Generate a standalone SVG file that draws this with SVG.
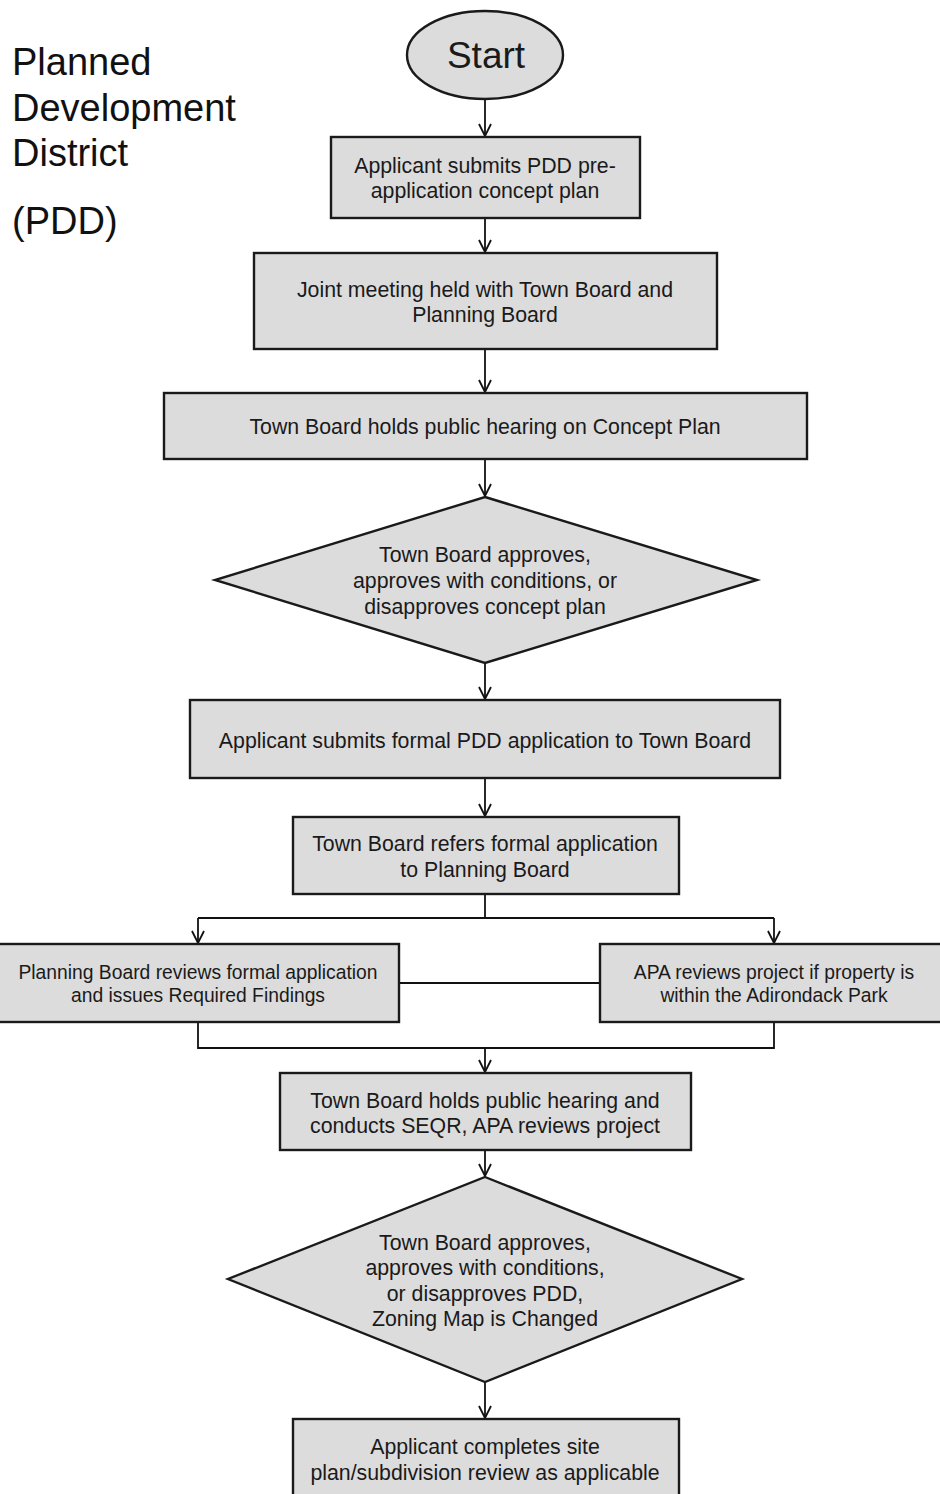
<svg xmlns="http://www.w3.org/2000/svg" width="940" height="1494" viewBox="0 0 940 1494">
<defs>
<marker id="arr" viewBox="0 0 14 14" refX="13" refY="7" markerWidth="14" markerHeight="14" markerUnits="userSpaceOnUse" orient="auto">
<path d="M1,1 L13,7 L1,13" fill="none" stroke="#111" stroke-width="1.8"/>
</marker>
<style>
.n{fill:#dcdcdc;stroke:#1a1a1a;stroke-width:2.4}
.t{font-family:"Liberation Sans",Arial,sans-serif;font-size:21.3px;fill:#1a1a1a;text-anchor:middle}
.s{font-size:19.3px}
.title{font-family:"Liberation Sans",Arial,sans-serif;font-size:38px;fill:#111}
.c{fill:none;stroke:#111;stroke-width:1.8}
</style>
</defs>
<rect width="940" height="1494" fill="#fff"/>
<g id="title">
<text class="title" x="12" y="75">Planned</text>
<text class="title" x="12" y="121">Development</text>
<text class="title" x="12" y="166">District</text>
<text class="title" x="12" y="234">(PDD)</text>
</g>
<g id="connectors">
<path class="c" d="M485,99 V136" marker-end="url(#arr)"/>
<path class="c" d="M485,218 V252" marker-end="url(#arr)"/>
<path class="c" d="M485,349 V392" marker-end="url(#arr)"/>
<path class="c" d="M485,459 V496" marker-end="url(#arr)"/>
<path class="c" d="M485,663 V699" marker-end="url(#arr)"/>
<path class="c" d="M485,778 V816" marker-end="url(#arr)"/>
<path class="c" d="M485,894 V918"/>
<path class="c" d="M198,918 H774"/>
<path class="c" d="M198,918 V943" marker-end="url(#arr)"/>
<path class="c" d="M774,918 V943" marker-end="url(#arr)"/>
<path class="c" d="M399,983 H600"/>
<path class="c" d="M198,1022 V1048 H774 V1022"/>
<path class="c" d="M485,1048 V1072" marker-end="url(#arr)"/>
<path class="c" d="M485,1150 V1176" marker-end="url(#arr)"/>
<path class="c" d="M485,1382 V1418" marker-end="url(#arr)"/>
</g>
<g id="start">
<ellipse class="n" cx="485" cy="55" rx="78" ry="44"/>
<text class="t" x="486" y="68" style="font-size:37px">Start</text>
</g>
<g id="n1">
<rect class="n" x="331" y="137" width="309" height="81"/>
<text class="t" x="485" y="173">Applicant submits PDD pre-</text>
<text class="t" x="485" y="198">application concept plan</text>
</g>
<g id="n2">
<rect class="n" x="254" y="253" width="463" height="96"/>
<text class="t" x="485" y="297">Joint meeting held with Town Board and</text>
<text class="t" x="485" y="322">Planning Board</text>
</g>
<g id="n3">
<rect class="n" x="164" y="393" width="643" height="66"/>
<text class="t" x="485" y="434">Town Board holds public hearing on Concept Plan</text>
</g>
<g id="d1">
<polygon class="n" points="485,497 757,580 485,663 215,580"/>
<text class="t" x="485" y="562">Town Board approves,</text>
<text class="t" x="485" y="588">approves with conditions, or</text>
<text class="t" x="485" y="614">disapproves concept plan</text>
</g>
<g id="n4">
<rect class="n" x="190" y="700" width="590" height="78"/>
<text class="t" x="485" y="748">Applicant submits formal PDD application to Town Board</text>
</g>
<g id="n5">
<rect class="n" x="293" y="817" width="386" height="77"/>
<text class="t" x="485" y="851">Town Board refers formal application</text>
<text class="t" x="485" y="877">to Planning Board</text>
</g>
<g id="n6">
<rect class="n" x="-2" y="944" width="401" height="78"/>
<text class="t s" x="198" y="979">Planning Board reviews formal application</text>
<text class="t s" x="198" y="1002">and issues Required Findings</text>
</g>
<g id="n7">
<rect class="n" x="600" y="944" width="342" height="78"/>
<text class="t s" x="774" y="979">APA reviews project if property is</text>
<text class="t s" x="774" y="1002">within the Adirondack Park</text>
</g>
<g id="n8">
<rect class="n" x="280" y="1073" width="411" height="77"/>
<text class="t" x="485" y="1108">Town Board holds public hearing and</text>
<text class="t" x="485" y="1133">conducts SEQR, APA reviews project</text>
</g>
<g id="d2">
<polygon class="n" points="485,1177 742,1279 485,1382 228,1279"/>
<text class="t" x="485" y="1250">Town Board approves,</text>
<text class="t" x="485" y="1275">approves with conditions,</text>
<text class="t" x="485" y="1301">or disapproves PDD,</text>
<text class="t" x="485" y="1326">Zoning Map is Changed</text>
</g>
<g id="n9">
<rect class="n" x="293" y="1419" width="386" height="80"/>
<text class="t" x="485" y="1454">Applicant completes site</text>
<text class="t" x="485" y="1480">plan/subdivision review as applicable</text>
</g>
</svg>
